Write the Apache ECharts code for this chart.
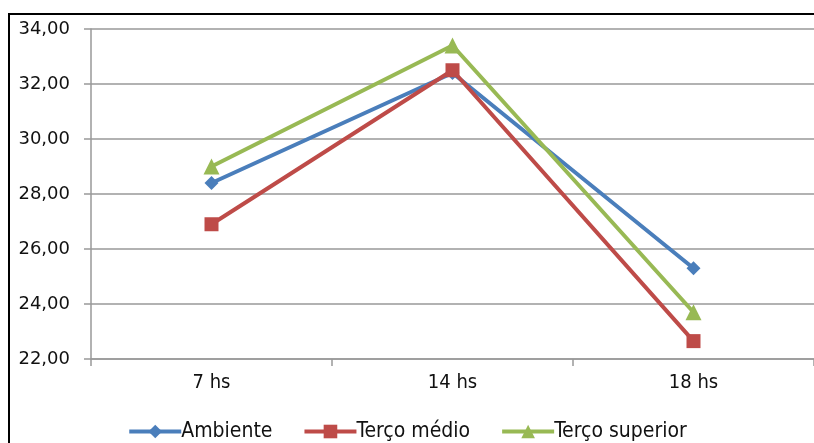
<!DOCTYPE html>
<html>
<head>
<meta charset="utf-8">
<script src="https://cdn.jsdelivr.net/npm/echarts@6/dist/echarts.min.js"></script>
<style>
  html, body { margin: 0; padding: 0; background: #fff; }
  #chart { width: 814px; height: 443px; }
</style>
</head>
<body>
<div id="chart"></div>
<script>
// Temperature readings per time of day
const categories = ['7 hs', '14 hs', '18 hs'];
const ambiente = [28.4, 32.4, 25.3];
const tercoMedio = [26.9, 32.5, 22.65];
const tercoSuperior = [29.0, 33.4, 23.7];
const yTicks = { min: 22, max: 34, step: 2 };

const narrow = '"Liberation Sans Narrow", "Arial Narrow", "DejaVu Sans Condensed", sans-serif';

function lineSeries(name, data, color, symbol, size) {
  return {
    name: name,
    type: 'line',
    data: data,
    symbol: symbol,
    symbolSize: size,
    lineStyle: { color: color, width: 4 },
    itemStyle: { color: color },
    emphasis: { disabled: true },
    animation: false
  };
}

const chart = echarts.init(document.getElementById('chart'), null, { renderer: 'canvas' });
chart.setOption({
  backgroundColor: '#fff',
  animation: false,
  grid: { left: 91, right: -1, top: 29, bottom: 84 },
  graphic: [{
    type: 'rect',
    shape: { x: 9, y: 14, width: 830, height: 460 },
    style: { fill: 'none', stroke: '#000', lineWidth: 2 },
    silent: true
  }],
  xAxis: {
    type: 'category',
    data: categories,
    boundaryGap: true,
    axisLine: { lineStyle: { color: '#999', width: 1.5 } },
    axisTick: { show: true, length: 7, lineStyle: { color: '#999', width: 1.5 } },
    axisLabel: { color: '#111', fontSize: 20, fontFamily: narrow, margin: 14 }
  },
  yAxis: {
    type: 'value',
    min: yTicks.min,
    max: yTicks.max,
    interval: yTicks.step,
    axisLine: { show: true, lineStyle: { color: '#999', width: 1.5 } },
    axisTick: { show: true, length: 7, lineStyle: { color: '#999', width: 1.5 } },
    splitLine: { lineStyle: { color: '#999', width: 1.5 } },
    axisLabel: {
      color: '#111', fontSize: 18, fontFamily: '"DejaVu Sans", Verdana, sans-serif', margin: 21,
      formatter: v => v.toFixed(2).replace('.', ',')
    }
  },
  legend: {
    bottom: -4,
    left: 'center',
    itemWidth: 52,
    itemHeight: 17,
    itemGap: 30,
    lineStyle: { width: 4 },
    textStyle: { color: '#111', fontSize: 21, fontFamily: narrow, padding: [0, 0, 0, -5] },
    data: ['Ambiente', 'Terço médio', 'Terço superior']
  },
  series: [
    lineSeries('Ambiente', ambiente, '#4a7ebb', 'diamond', 14),
    lineSeries('Terço médio', tercoMedio, '#be4b48', 'rect', 14),
    lineSeries('Terço superior', tercoSuperior, '#98b954', 'triangle', 16)
  ]
});
</script>
</body>
</html>
